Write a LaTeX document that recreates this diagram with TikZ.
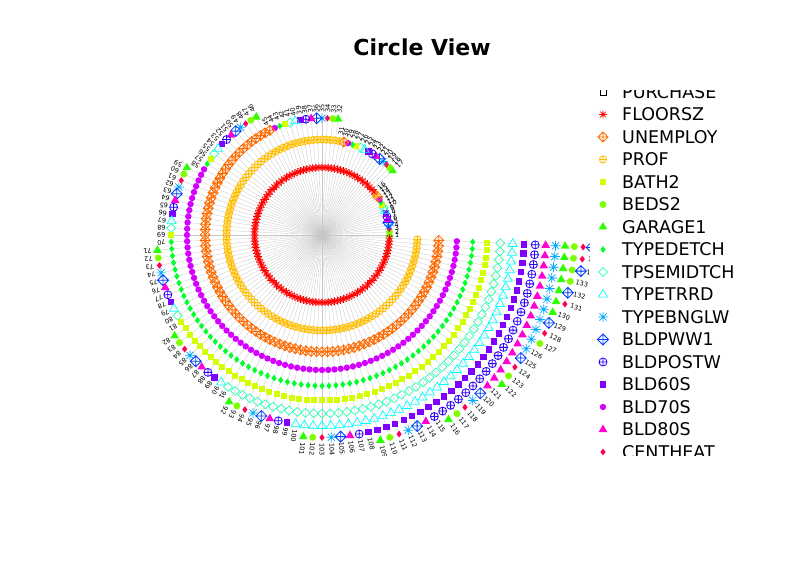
\documentclass[tikz,border=0pt]{standalone}
\usepackage{fontspec}
\setmainfont{DejaVu Sans}
\definecolor{cA}{HTML}{FF0000}
\definecolor{cB}{HTML}{FFBF00}
\definecolor{cC}{HTML}{FF6A00}
\definecolor{cD}{HTML}{D400FF}
\definecolor{cE}{HTML}{00FF2B}
\definecolor{cF}{HTML}{D4FF00}
\definecolor{cG}{HTML}{2BFFB0}
\definecolor{cH}{HTML}{00FFFF}
\definecolor{cI}{HTML}{8000FF}
\definecolor{cJ}{HTML}{2B00FF}
\definecolor{cK}{HTML}{FF00D4}
\definecolor{cL}{HTML}{00AAFF}
\definecolor{cM}{HTML}{2BFF00}
\definecolor{cN}{HTML}{80FF00}
\definecolor{cO}{HTML}{FF0055}
\definecolor{cQ}{HTML}{0040FF}
\newcommand\seqL[1]{\ifcase#1\or A\or B\or C\or D\or E\or F\or G\or H\or I\or J\or K\or L\or M\or N\or O\or Q\fi}
\newcommand\groupsL{1/{M,N,O,L,Q,K,J,I,H,G,F,E,D,C,B,A},2/{M,N,O,L,Q,K,J,I,H,G,F,E,D,C,B},3/{M,N,O,L,Q,K,J,I,H,G,F,E,D,C},4/{M,N,O,L,Q,K,J,I,H,G,F,E,D},5/{M,N,O,L,Q,K,J,I,H,G,F,E},6/{M,N,O,L,Q,K,J,I,H,G,F},7/{M,N,O,L,Q,K,J,I,H,G},8/{M,N,O,L,Q,K,J,I,H},9/{M,N,O,L,Q,K,J,I},10/{M,N,O,L,Q,K,J},11/{M,N,O,L,Q,K},12/{M,N,O,Q,L},13/{N,O,Q,M},14/{O,Q,N},15/{Q,O},16/{Q}}
\tikzset{
  spoke/.style={draw=black!22,line width=0.3pt},
  lbl/.style={font=\fontsize{6.5}{7}\selectfont,inner sep=0.5pt,anchor=west},
  legtxt/.style={font=\fontsize{17.5}{20}\selectfont,anchor=west,inner sep=0pt},
  mkA/.pic={\draw[cA,line width=.7pt] (0:4)--(180:4) (45:4)--(225:4) (90:4)--(270:4) (135:4)--(315:4);},
  mkB/.pic={\draw[cB,line width=.8pt] (0,0) circle(3.6) (-3.6,0)--(3.6,0) (0,-3.6)--(0,3.6);},
  mkC/.pic={\draw[cC,line width=.8pt] (5,0)--(0,5)--(-5,0)--(0,-5)--cycle (-5,0)--(5,0) (0,-5)--(0,5);},
  mkD/.pic={\fill[cD] (0,0) circle(3.2);},
  mkE/.pic={\fill[cE] (2.6,0)--(0,3.4)--(-2.6,0)--(0,-3.4)--cycle;},
  mkF/.pic={\fill[cF] (-3,-3) rectangle (3,3);},
  mkG/.pic={\draw[cG,line width=.7pt] (4.5,0)--(0,4.5)--(-4.5,0)--(0,-4.5)--cycle;},
  mkH/.pic={\draw[cH,line width=.7pt] (90:5.2)--(210:5.2)--(330:5.2)--cycle;},
  mkI/.pic={\fill[cI] (-3.2,-3.2) rectangle (3.2,3.2);},
  mkJ/.pic={\draw[cJ,line width=.8pt] (0,0) circle(4) (-4,0)--(4,0) (0,-4)--(0,4);},
  mkK/.pic={\fill[cK] (90:5)--(210:5)--(330:5)--cycle;},
  mkL/.pic={\draw[cL,line width=.7pt] (0:5)--(180:5) (45:5)--(225:5) (90:5)--(270:5) (135:5)--(315:5);},
  mkM/.pic={\fill[cM] (90:5)--(210:5)--(330:5)--cycle;},
  mkN/.pic={\fill[cN] (0,0) circle(3.5);},
  mkO/.pic={\fill[cO] (2.6,0)--(0,3.4)--(-2.6,0)--(0,-3.4)--cycle;},
  mkQ/.pic={\draw[cQ,line width=.8pt] (5.5,0)--(0,5.5)--(-5.5,0)--(0,-5.5)--cycle (-5.5,0)--(5.5,0) (0,-5.5)--(0,5.5);},
  mkP/.pic={\draw[black,line width=.8pt] (-3,-3) rectangle (3,3);},
}
\begin{document}
\begin{tikzpicture}[x=1pt,y=1pt]
\fill[white] (0,0) rectangle (800,571);
\useasboundingbox (0,0) rectangle (800,571);
\node[font=\bfseries\fontsize{22}{26}\selectfont] (title) at (422,524) {Circle View};
\coordinate (C) at (322,336);
\begin{scope}
\clip (0,116) rectangle (800,490);
% spokes
\foreach \m/\tips in \groupsL {
  \pgfmathtruncatemacro\s{(\m-1)*17-(\m-1)*\m/2}
  \pgfmathsetmacro\rt{67.5*sqrt(\m)}
  \foreach \t [count=\j] in \tips {
    \pgfmathtruncatemacro\i{\s+\j}
    \pgfmathsetmacro\ang{(\i-1)*2.6470588}
    \draw[spoke] (C) -- ++(\ang:\rt);
  }
}
% markers and labels
\foreach \m/\tips in \groupsL {
  \pgfmathtruncatemacro\s{(\m-1)*17-(\m-1)*\m/2}
  \pgfmathsetmacro\rt{67.5*sqrt(\m)}
  \pgfmathsetmacro\rl{\rt+5}
  \pgfmathtruncatemacro\mm{\m-1}
  \foreach \t [count=\j] in \tips {
    \pgfmathtruncatemacro\i{\s+\j}
    \pgfmathsetmacro\ang{(\i-1)*2.6470588}
    \ifnum\m>1
      \foreach \p in {1,...,\mm} {
        \pgfmathsetmacro\r{67.5*sqrt(\p)}
        \edef\cmd{\noexpand\path (C) ++(\ang:\r) pic {mk\seqL{\p}};}\cmd
      }
    \fi
    \edef\cmd{\noexpand\path (C) ++(\ang:\rt) pic {mk\t};}\cmd
    \path (C) ++(\ang:\rl) node[lbl,rotate=\ang] (lab\i) {\i};
  }
}
\end{scope}
% legend
\begin{scope}
\clip (590,116) rectangle (800,480);
\fill[white] (590,116) rectangle (800,480);
\foreach \n/\tx [count=\k from 0] in {P/PURCHASE,A/FLOORSZ,C/UNEMPLOY,B/PROF,F/BATH2,N/BEDS2,M/GARAGE1,E/TYPEDETCH,G/TPSEMIDTCH,H/TYPETRRD,L/TYPEBNGLW,Q/BLDPWW1,J/BLDPOSTW,I/BLD60S,D/BLD70S,K/BLD80S,O/CENTHEAT} {
  \pgfmathsetmacro\yy{571-92-22.5*\k}
  \edef\cmd{\noexpand\path (603,\yy) pic {mk\n};}\cmd
  \node[legtxt] (leg\k) at (622,\yy) {\tx};
}
\end{scope}
\end{tikzpicture}
\end{document}
